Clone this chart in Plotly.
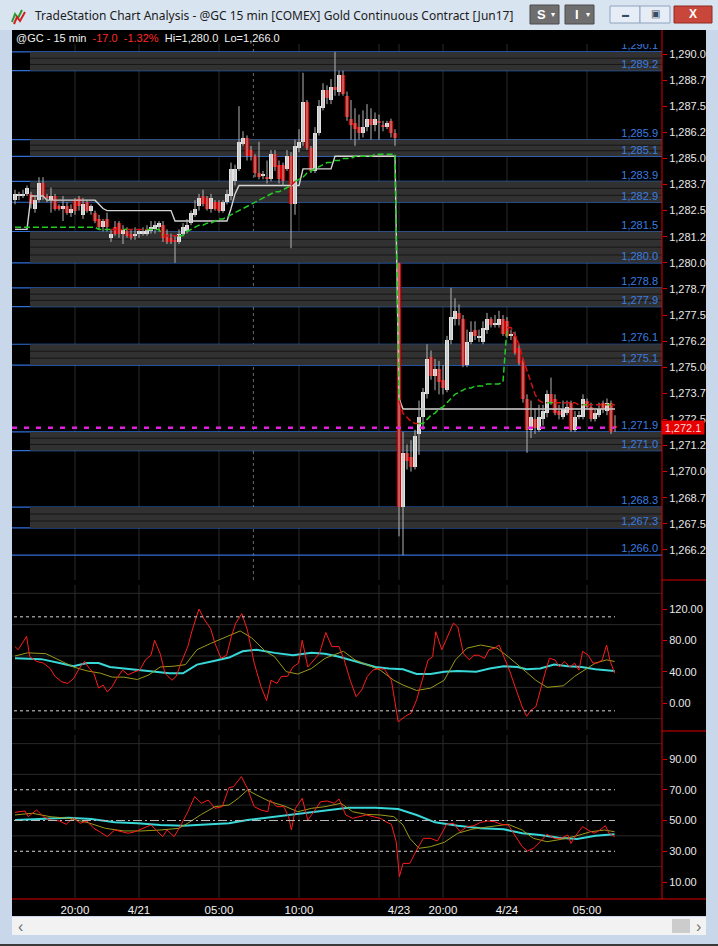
import plotly.graph_objects as go

W, H = 718, 946

# ---------------- data ----------------
OPEN = [1283.0,1283.2,1283.2,1283.3,1283.3,1282.6,1283.0,1283.8,1283.2,1283.0,
        1283.2,1282.7,1282.6,1282.7,1282.4,1283.0,1283.1,1282.3,1282.9,1282.5,
        1282.4,1282.1,1281.7,1282.1,1281.2,1281.7,1281.9,1281.4,1281.5,1281.4,
        1281.3,1281.4,1281.4,1281.4,1281.5,1281.6,1281.7,1281.8,1281.4,1281.2,
        1281.1,1281.0,1281.4,1281.5,1281.9,1282.3,1282.7,1283.2,1283.1,1282.6,
        1282.9,1282.9,1282.5,1282.9,1283.2,1283.9,1284.5,1285.7,1286.0,1285.4,
        1285.1,1284.3,1284.2,1284.1,1284.0,1285.2,1284.7,1284.7,1284.5,1285.1,
        1282.8,1285.5,1285.8,1287.7,1285.5,1284.4,1286.2,1287.4,1288.3,1287.8,
        1288.4,1288.2,1289.0,1288.0,1286.9,1286.7,1286.5,1286.2,1286.5,1286.9,
        1286.6,1286.8,1286.6,1286.5,1286.8,1286.2,1280.0,1268.3,1270.9,1270.7,
        1270.2,1271.8,1272.6,1273.7,1275.5,1274.6,1274.9,1274.4,1273.9,1276.3,
        1277.3,1277.6,1277.3,1275.1,1276.2,1276.8,1276.4,1276.2,1276.8,1277.3,
        1277.0,1277.0,1277.3,1277.2,1276.5,1276.5,1275.9,1275.3,1273.5,1272.0,
        1272.5,1272.0,1272.5,1272.8,1273.7,1273.5,1272.9,1272.6,1272.8,1273.3,
        1272.0,1272.6,1272.6,1273.4,1273.1,1272.5,1272.7,1273.3,1272.9,1273.3,
        1272.2]
HIGH = [1283.5,1283.4,1283.5,1283.7,1283.4,1283.2,1284.1,1284.1,1283.3,1283.6,
        1283.3,1282.8,1283.2,1282.9,1282.8,1283.1,1283.2,1283.1,1283.0,1282.8,
        1282.5,1282.3,1282.1,1282.4,1281.6,1282.0,1282.0,1281.8,1281.7,1281.6,
        1281.7,1281.6,1281.7,1281.8,1282.0,1282.0,1282.0,1282.0,1281.6,1281.4,
        1281.3,1281.6,1281.9,1282.1,1282.5,1283.0,1283.3,1283.5,1283.2,1283.3,
        1283.0,1283.0,1283.0,1283.5,1284.8,1284.7,1287.5,1286.3,1286.1,1285.6,
        1285.2,1285.8,1284.4,1284.9,1285.4,1285.4,1284.9,1284.8,1285.4,1285.3,
        1285.9,1286.4,1289.1,1287.8,1285.6,1286.5,1287.8,1288.6,1288.5,1288.8,
        1290.1,1289.2,1289.2,1288.2,1287.8,1287.4,1287.1,1287.3,1287.6,1287.4,
        1287.2,1287.1,1286.8,1286.8,1286.9,1286.4,1280.0,1271.9,1271.3,1271.5,
        1272.0,1273.4,1274.0,1276.1,1275.8,1275.4,1275.3,1275.1,1276.5,1278.8,
        1278.3,1278.0,1277.5,1276.8,1277.2,1277.2,1276.8,1277.2,1277.6,1277.4,
        1277.5,1277.7,1277.5,1277.4,1276.8,1276.7,1276.1,1275.4,1273.7,1273.4,
        1273.0,1273.2,1273.2,1273.9,1274.5,1273.7,1273.2,1273.4,1273.4,1273.4,
        1272.9,1272.9,1273.7,1273.5,1273.3,1273.0,1273.3,1273.4,1273.5,1273.4,
        1272.7]
LOW = [1282.8,1283.0,1283.1,1283.2,1282.6,1282.4,1282.9,1283.0,1282.9,1282.4,
       1282.5,1282.5,1282.0,1282.3,1282.2,1282.3,1282.5,1282.1,1282.4,1282.3,
       1281.9,1281.6,1281.5,1281.5,1281.0,1281.3,1281.2,1280.9,1281.2,1281.1,
       1281.1,1281.2,1281.3,1281.3,1281.4,1281.4,1281.5,1281.0,1280.9,1280.9,
       1280.0,1280.9,1281.3,1281.4,1281.8,1282.2,1282.5,1282.7,1282.5,1282.4,
       1282.5,1282.4,1282.4,1282.8,1283.0,1283.7,1284.4,1285.6,1284.9,1284.9,
       1284.1,1284.0,1284.0,1283.8,1283.9,1284.4,1283.8,1283.7,1284.4,1280.7,
       1282.3,1285.3,1285.6,1285.4,1284.3,1284.3,1286.1,1287.3,1287.6,1287.6,
       1288.0,1288.0,1288.0,1286.8,1285.9,1285.6,1285.9,1286.0,1286.3,1285.9,
       1286.3,1285.9,1286.3,1286.4,1286.0,1285.6,1266.9,1266.0,1270.1,1270.0,
       1270.1,1270.8,1272.0,1273.5,1274.4,1273.9,1273.7,1273.7,1273.8,1276.1,
       1277.0,1277.0,1275.0,1275.0,1276.1,1276.3,1276.2,1276.1,1276.6,1276.9,
       1276.9,1276.9,1276.5,1276.4,1276.3,1275.6,1275.1,1273.3,1270.9,1271.6,
       1271.8,1271.9,1272.2,1272.6,1273.2,1272.7,1272.5,1272.5,1272.7,1271.9,
       1271.9,1272.5,1272.5,1273.0,1272.4,1272.4,1272.6,1272.8,1272.7,1271.8,
       1271.9]
CLOSE = [1283.3,1283.3,1283.3,1283.6,1282.8,1283.0,1283.8,1283.2,1283.1,1283.2,
         1282.6,1282.6,1282.7,1282.4,1282.6,1282.5,1282.7,1282.8,1282.5,1282.7,
         1282.0,1281.7,1282.0,1281.7,1281.4,1281.4,1281.4,1281.6,1281.3,1281.2,
         1281.4,1281.5,1281.5,1281.6,1281.7,1281.8,1281.9,1281.2,1281.0,1281.0,
         1281.0,1281.4,1281.7,1281.8,1282.4,1282.6,1283.1,1282.8,1282.6,1283.1,
         1282.6,1282.5,1282.9,1283.3,1284.5,1284.5,1285.8,1286.0,1285.1,1285.1,
         1284.3,1284.1,1284.2,1284.0,1285.2,1284.6,1284.0,1283.9,1285.1,1282.8,
         1285.6,1285.8,1287.7,1285.5,1284.4,1286.2,1287.5,1288.3,1287.9,1288.4,
         1288.3,1289.0,1288.1,1287.0,1286.6,1286.4,1286.2,1286.5,1286.9,1286.6,
         1286.9,1286.7,1286.5,1286.7,1286.2,1286.0,1268.3,1270.9,1270.5,1270.2,
         1271.7,1272.6,1273.8,1275.4,1274.6,1274.9,1274.3,1274.0,1276.3,1277.4,
         1277.7,1277.3,1275.1,1276.2,1276.7,1276.5,1276.5,1276.9,1277.3,1277.0,
         1277.1,1277.3,1276.6,1276.5,1276.6,1275.7,1275.2,1273.5,1272.0,1272.6,
         1272.1,1272.6,1272.9,1273.7,1273.3,1272.8,1272.7,1273.0,1273.1,1272.0,
         1272.6,1272.7,1273.5,1273.1,1272.5,1272.8,1273.0,1273.0,1273.3,1271.9,
         1272.1]

# white step line and coloured dashed trailing line (price units, one per bar)
WHITE_LINE = ([1281.6]*4 + [1283.2]*4 + [1283.0]*13 + [1282.8, 1282.6] + [1282.5]*17 +
              [1282.0]*14 + [1282.6, 1283.3] + [1283.7]*16 + [1284.5]*8 + [1285.1]*16 +
              [1273.5] + [1273.0]*54)
TRAIL_LINE = ([1281.7]*21 + [1281.6]*16 + [1281.3]*6 +
              [1281.5,1281.6,1281.7,1281.8,1281.8] +
              [1281.9,1281.9,1282.0,1282.1,1282.1,1282.2] +
              [1282.3,1282.4,1282.5,1282.6,1282.7] +
              [1282.8,1282.9,1283.0,1283.1,1283.2] +
              [1283.3,1283.4,1283.4,1283.5,1283.6] +
              [1283.7,1283.9,1284.0,1284.1,1284.3,1284.4] +
              [1284.5,1284.6,1284.7,1284.8,1284.8,1284.9,1284.9] +
              [1285.0,1285.0,1285.0,1285.1,1285.1,1285.1,1285.1,1285.1] +
              [1285.2]*6 + [1273.4] +
              [1272.8,1272.6,1272.4,1272.3,1272.3] +
              [1272.3,1272.5,1272.7,1272.8,1273.0,1273.1,1273.3,1273.5,1273.7,1273.8,
               1273.9,1274.0,1274.0,1274.1,1274.1,1274.1,1274.2,1274.2,1274.2,1274.2,1274.3] +
              [1276.9,1276.9] +
              [1276.5,1276.1,1275.4,1274.8,1274.2,1273.7,1273.4,1273.3] +
              [1273.3]*8 + [1273.2]*10)

LEVELS = [1290.1, 1289.2, 1285.9, 1285.1, 1283.9, 1282.9, 1281.5, 1280.0, 1278.8,
          1277.9, 1276.1, 1275.1, 1271.9, 1271.0, 1268.3, 1267.3, 1266.0]
ZONES = [(1289.2, 1290.1), (1285.1, 1285.9), (1282.9, 1283.9), (1280.0, 1281.5),
         (1277.9, 1278.8), (1275.1, 1276.1), (1271.0, 1271.9), (1267.3, 1268.3)]
LAST_PRICE = 1272.1

PRICE_TICKS = [1290.0, 1288.75, 1287.5, 1286.25, 1285.0, 1283.75, 1282.5, 1281.25, 1280.0,
               1278.75, 1277.5, 1276.25, 1275.0, 1273.75, 1272.5, 1271.25, 1270.0,
               1268.75, 1267.5, 1266.25]
PRICE_TICK_TEXT = ["1,290.0", "1,288.7", "1,287.5", "1,286.2", "1,285.0", "1,283.7", "1,282.5",
                   "1,281.2", "1,280.0", "1,278.7", "1,277.5", "1,276.2", "1,275.0", "1,273.7",
                   "1,272.5", "1,271.2", "1,270.0", "1,268.7", "1,267.5", "1,266.2"]

TIME_TICKS = [15, 31, 51, 71, 96, 107, 123, 143]
TIME_LABELS = ["20:00", "4/21", "05:00", "10:00", "4/23", "20:00", "4/24", "05:00"]
GRID_X = [15, 31, 51, 71, 91, 96, 107, 123, 143]
SESSION_X = 59.6

# indicator 1
P1_RED_X = [0.0,0.8,2.9,3.7,5.4,7.1,8.8,10.0,11.7,13.2,14.6,16.3,17.4,18.6,19.7,20.9,22.0,23.1,
            24.3,25.4,26.9,28.3,30.0,31.2,32.6,34.0,34.9,36.3,37.5,39.2,40.3,41.5,43.2,44.3,
            46.0,47.4,48.9,50.0,51.5,52.9,54.1,55.2,56.7,58.1,59.8,61.5,62.9,64.0,65.5,66.6,
            68.1,69.5,70.9,71.8,73.2,74.7,76.1,77.7,79.2,81.0,82.3,83.8,85.3,86.7,88.1,89.5,
            91.0,92.4,94.1,95.8,97.6,99.0,100.4,101.8,103.3,104.4,105.2,106.7,107.9,109.6,
            110.7,112.1,113.6,114.7,115.9,117.4,118.5,119.9,121.0,122.2,123.6,125.0,126.8,
            127.9,129.0,130.2,131.3,132.5,133.6,135.0,136.1,137.3,138.8,139.9,141.0,141.9,
            143.3,144.5,145.6,146.8,147.9,148.7,149.9]
P1_RED = [72,68,85,59,53,51,44,34,27,25,31,46,53,44,38,19,23,14,21,31,42,36,40,42,55,61,80,63,
          38,29,34,51,72,93,120,106,95,76,57,61,85,102,114,93,51,21,3,29,25,34,34,46,51,80,46,
          55,63,90,72,72,55,29,8,17,34,42,44,43,29,-24,-17,-13,4,29,55,59,91,68,83,102,97,63,55,
          61,61,57,68,70,74,59,42,21,-5,-17,-9,-5,17,38,57,55,46,53,46,51,42,66,61,51,51,55,74,
          55,38]
P1_OLIVE_X = [0.0,3.1,7.7,11.1,14.6,18.0,21.4,24.3,27.2,30.6,33.5,36.3,39.8,42.6,45.5,48.9,52.3,
              56.3,59.2,62.6,64.9,67.8,70.7,74.1,77.5,82.1,85.0,87.8,91.3,94.7,97.0,100.4,103.9,
              107.3,110.1,113.0,116.4,120.5,123.3,126.8,130.2,133.0,137.1,139.9,142.8,145.1,
              147.9,149.9]
P1_OLIVE = [60,64,63,55,46,41,38,33,33,30,36,46,47,49,68,76,83,92,83,66,59,40,37,44,57,66,55,49,
            42,29,23,16,19,29,55,70,74,70,59,44,29,20,22,34,44,51,55,53]
P1_CYAN_X = [0.0,6.6,11.1,14.6,18.0,20.9,23.7,27.2,30.6,35.2,38.6,42.0,45.5,50.0,53.5,56.9,60.4,
             64.9,69.5,74.1,77.5,81.0,85.5,90.1,93.5,97.0,100.4,103.9,107.3,110.7,115.3,118.7,
             122.2,125.6,127.9,131.3,134.8,138.2,141.6,145.1,149.9]
P1_CYAN = [57,56,51,47,51,51,46,44,42,40,38,38,49,54,58,66,68,64,61,64,63,59,53,46,44,43,37,37,
           40,41,40,44,47,46,43,44,49,47,46,43,41]
P1_BANDS = [110, -10]
P1_TICKS = [120, 80, 40, 0]
P1_TICK_TEXT = ["120.00", "80.00", "40.00", "0.00"]
P1_GRID = [140, 100, 60, 20, -20]

# indicator 2
P2_RED_X = [0.0,2.5,3.3,5.4,7.1,8.8,11.1,12.8,14.6,16.3,18.0,19.7,21.4,23.1,24.9,26.6,28.3,30.0,
            31.7,34.0,35.7,36.9,38.0,39.8,41.5,43.2,44.9,46.6,48.3,50.0,51.8,53.5,54.6,56.6,
            58.1,59.8,61.5,63.2,63.8,65.5,67.2,68.4,69.1,70.1,71.8,73.2,74.7,76.4,78.1,79.8,
            81.0,82.7,84.4,86.1,87.8,89.5,91.3,93.0,94.1,95.3,96.1,97.0,98.7,100.4,102.1,103.9,
            105.6,106.7,107.9,109.6,111.3,113.0,114.7,116.4,118.2,119.9,121.6,123.3,125.0,
            126.8,128.1,129.6,131.3,133.0,134.8,136.5,138.2,139.0,140.3,141.9,143.3,144.8,
            146.2,147.6,148.5,149.9]
P2_RED = [55.3,56.2,52.5,56.8,52.5,50.3,49.7,47.5,51.8,48.2,49.7,44.9,42.3,39.5,43.8,42.7,41.7,
          42.7,44.5,47.1,42.7,39.5,43.8,39.5,47.1,55.7,65.5,61.2,63.3,57.9,59.0,71.4,72.0,78.5,
          70.9,59.0,56.8,55.7,63.3,59.0,59.0,52.5,43.8,57.9,64.4,50.3,55.7,62.2,62.7,61.2,64.0,
          53.6,51.4,52.5,53.6,52.5,51.4,48.8,47.5,36.2,13.5,22.1,22.1,30.8,38.4,38.4,36.7,41.7,
          47.5,48.2,42.7,46.0,46.6,48.8,49.7,49.2,47.5,47.1,40.6,33.0,30.2,31.9,36.2,41.0,38.4,
          38.4,40.6,35.1,40.6,46.0,43.8,41.7,43.8,46.6,41.7,39.5]
P2_OLIVE_X = [0.0,4.3,8.8,13.4,18.0,22.6,27.2,31.7,36.3,40.9,43.2,46.6,50.0,53.5,55.8,58.1,60.4,
              63.8,67.2,70.7,74.1,77.5,81.5,84.4,87.8,91.3,94.7,97.0,98.7,101.0,103.9,107.3,
              110.7,114.2,118.7,123.3,126.8,129.6,133.0,137.1,140.5,143.9,147.4,149.9]
P2_OLIVE = [53.6,54.7,52.5,51.4,48.8,44.9,43.2,43.2,43.8,44.9,48.2,54.0,59.0,60.1,64.4,69.8,66.6,
            62.2,59.6,55.7,57.9,59.0,61.2,55.7,54.0,53.6,52.5,47.1,38.4,31.9,33.0,35.8,41.7,44.3,
            46.0,47.5,43.8,38.4,36.2,38.0,40.1,42.7,43.8,42.7]
P2_CYAN_X = [0.0,7.7,13.4,19.1,24.9,30.6,36.3,42.0,47.8,53.5,58.1,64.9,70.7,76.4,83.3,90.1,95.8,
             100.4,105.0,110.7,116.4,122.2,126.8,131.3,135.9,140.5,145.1,149.9]
P2_CYAN = [50.3,51.4,51.8,51.0,48.8,48.2,47.1,46.6,47.5,48.2,50.3,52.5,54.0,56.2,58.3,58.3,57.5,
           53.6,48.8,46.6,44.9,44.3,41.7,40.6,38.8,38.0,40.1,41.0]
P2_BANDS = [70, 30]
P2_MID = 50
P2_TICKS = [90, 70, 50, 30, 10]
P2_TICK_TEXT = ["90.00", "70.00", "50.00", "30.00", "10.00"]
P2_GRID = [100, 80, 60, 40, 20]

HEADER = ("@GC - 15 min&nbsp;&nbsp;<span style='color:#ff2a2a'>-17.0&nbsp;&nbsp;-1.32%</span>"
          "&nbsp;&nbsp;Hi=1,280.0&nbsp;&nbsp;Lo=1,266.0")
TITLE = "TradeStation Chart Analysis - @GC 15 min [COMEX] Gold Continuous Contract [Jun17]"

# ---------------- geometry helpers (pixels -> paper) ----------------
def PX(x):
    return x / W

def PY(y):
    return 1 - y / H

X_L, X_R = 12, 662
XR = [-0.75, 161.75]
FONT = "Liberation Sans, Arial, sans-serif"
TXT = "#e8e8e8"
RED_AX = "#e00000"

n = len(CLOSE)
idx = list(range(n))

fig = go.Figure()

# ---------------- price panel ----------------
fig.add_trace(go.Scatter(x=idx, y=WHITE_LINE, mode="lines",
                         line=dict(color="#d4d4d4", width=1.4), xaxis="x", yaxis="y",
                         hoverinfo="skip"))

wx, wy = [], []
for i in idx:
    wx += [i, i, None]
    wy += [LOW[i], HIGH[i], None]
fig.add_trace(go.Scatter(x=wx, y=wy, mode="lines", line=dict(color="#b4b4b4", width=1),
                         xaxis="x", yaxis="y", hoverinfo="skip"))

base = [min(o, c) for o, c in zip(OPEN, CLOSE)]
hgt = [max(abs(c - o), 0.05) for o, c in zip(OPEN, CLOSE)]
cols = ["#e2e2e2" if c >= o else "#dd0000" for o, c in zip(OPEN, CLOSE)]
fig.add_trace(go.Bar(x=idx, y=hgt, base=base, width=0.78, marker=dict(color=cols, line=dict(width=0)),
                     xaxis="x", yaxis="y", hoverinfo="skip"))

seg = {"g": ([], []), "r": ([], [])}
i = 0
while i < n - 1:
    c = "g" if TRAIL_LINE[i] <= CLOSE[i] else "r"
    j = i
    while j + 1 < n - 1 and (("g" if TRAIL_LINE[j + 1] <= CLOSE[j + 1] else "r") == c):
        j += 1
    xs, ys = seg[c]
    xs += list(range(i, j + 2)) + [None]
    ys += TRAIL_LINE[i:j + 2] + [None]
    i = j + 1
fig.add_trace(go.Scatter(x=seg["g"][0], y=seg["g"][1], mode="lines",
                         line=dict(color="#22cc22", width=1.5, dash="6px,3px"),
                         xaxis="x", yaxis="y", hoverinfo="skip"))
fig.add_trace(go.Scatter(x=seg["r"][0], y=seg["r"][1], mode="lines",
                         line=dict(color="#d01414", width=1.5, dash="6px,3px"),
                         xaxis="x", yaxis="y", hoverinfo="skip"))

fig.add_trace(go.Scatter(x=[-0.75, n - 1], y=[LAST_PRICE, LAST_PRICE], mode="lines",
                         line=dict(color="#e020e0", width=2.5, dash="5px,7px"),
                         xaxis="x", yaxis="y", hoverinfo="skip"))

lab_x = (658 - 15) / 4.0
fig.add_trace(go.Scatter(x=[lab_x] * len(LEVELS), y=LEVELS, mode="text",
                         text=[f"{v:,.1f}" for v in LEVELS], textposition="top left",
                         textfont=dict(color="#3a7de0", size=11, family=FONT),
                         xaxis="x", yaxis="y", hoverinfo="skip", cliponaxis=True))

# ---------------- indicator panels ----------------
for xs_, ys_, col, wd, ax in [
    (P1_CYAN_X, P1_CYAN, "#38d8d8", 2, "2"),
    (P1_OLIVE_X, P1_OLIVE, "#9a9a1c", 1, "2"),
    (P1_RED_X, P1_RED, "#ff1c1c", 1, "2"),
    (P2_CYAN_X, P2_CYAN, "#38d8d8", 2, "3"),
    (P2_OLIVE_X, P2_OLIVE, "#9a9a1c", 1, "3"),
    (P2_RED_X, P2_RED, "#ff1c1c", 1, "3"),
]:
    fig.add_trace(go.Scatter(x=xs_, y=ys_, mode="lines", line=dict(color=col, width=wd),
                             xaxis="x" + ax, yaxis="y" + ax, hoverinfo="skip"))

# ---------------- shapes ----------------
shapes = []
GRID_C = "#2a2a2a"
for ax in ["", "2", "3"]:
    for gx in GRID_X:
        shapes.append(dict(type="line", xref="x" + ax, yref=f"y{ax} domain", x0=gx, x1=gx,
                           y0=0, y1=1, line=dict(color=GRID_C, width=1), layer="below"))
shapes.append(dict(type="line", xref="x", yref="y domain", x0=SESSION_X, x1=SESSION_X, y0=0, y1=1,
                   line=dict(color="#6a6a6a", width=1, dash="3px,3px"), layer="below"))
for g in P1_GRID:
    shapes.append(dict(type="line", xref="x2 domain", yref="y2", x0=0, x1=1, y0=g, y1=g,
                       line=dict(color=GRID_C, width=1), layer="below"))
for g in P2_GRID:
    shapes.append(dict(type="line", xref="x3 domain", yref="y3", x0=0, x1=1, y0=g, y1=g,
                       line=dict(color=GRID_C, width=1), layer="below"))

ZONE_START = 3.75
for lo, hi in ZONES:
    shapes.append(dict(type="rect", xref="x", yref="y", x0=ZONE_START, x1=XR[1], y0=lo, y1=hi,
                       fillcolor="#313131", line=dict(width=0), layer="below"))
    k = 3 if (hi - lo) < 1.2 else 4
    for j in range(1, k):
        yy = lo + (hi - lo) * j / k
        shapes.append(dict(type="line", xref="x", yref="y", x0=ZONE_START, x1=XR[1], y0=yy, y1=yy,
                           line=dict(color="#161616", width=1), layer="below"))
for lv in LEVELS:
    shapes.append(dict(type="line", xref="x domain", yref="y", x0=0, x1=1, y0=lv, y1=lv,
                       line=dict(color="#2f6fd8", width=1.2), layer="below"))

for b in P1_BANDS:
    shapes.append(dict(type="line", xref="x2", yref="y2", x0=-0.25, x1=n - 1, y0=b, y1=b,
                       line=dict(color="#d8d8d8", width=1, dash="3px,3px")))
for b in P2_BANDS:
    shapes.append(dict(type="line", xref="x3", yref="y3", x0=-0.25, x1=n - 1, y0=b, y1=b,
                       line=dict(color="#d8d8d8", width=1, dash="3px,3px")))
shapes.append(dict(type="line", xref="x3", yref="y3", x0=-0.25, x1=n - 1, y0=P2_MID, y1=P2_MID,
                   line=dict(color="#b8b8b8", width=1, dash="9px,3px,2px,3px")))

shapes.append(dict(type="line", xref="paper", yref="paper", x0=PX(662), x1=PX(662), y0=PY(30),
                   y1=PY(899), line=dict(color=RED_AX, width=1)))
for yy, xa in [(580, 662), (731, 662), (899, 12)]:
    shapes.append(dict(type="line", xref="paper", yref="paper", x0=PX(xa), x1=PX(706),
                       y0=PY(yy), y1=PY(yy), line=dict(color=RED_AX, width=1)))


def prect(x0, y0, x1, y1, fill, line=None, lw=0):
    return dict(type="rect", xref="paper", yref="paper", x0=PX(x0), x1=PX(x1), y0=PY(y0), y1=PY(y1),
                fillcolor=fill, line=dict(color=line or fill, width=lw), layer="above")


shapes += [
    prect(0, 0, 718, 30, "#d9e4f1"),
    prect(0, 30, 12, 946, "#c8d7ea"),
    prect(706, 30, 718, 946, "#c8d7ea"),
    prect(0, 916, 718, 946, "#c8d7ea"),
    prect(12, 917, 706, 935, "#f2f2f2"),
    prect(672, 919, 690, 933, "#cccccc"),
    prect(0, 944, 718, 946, "#3a3a3a"),
    prect(530, 5, 559, 24, "#6e6e6e", "#4a4a4a", 1),
    prect(565, 5, 594, 24, "#6e6e6e", "#4a4a4a", 1),
    prect(610, 6, 640, 23, "#e6edf6", "#8ea4bf", 1),
    prect(640, 6, 670, 23, "#e6edf6", "#8ea4bf", 1),
    prect(674, 6, 712, 23, "#c9463b", "#8e2a22", 1),
]
shapes.append(dict(type="path", xref="paper", yref="paper",
                   path=f"M {PX(12)} {PY(22)} L {PX(15)} {PY(14)} L {PX(18)} {PY(18)} L {PX(22)} {PY(10)}",
                   line=dict(color="#2a9a2a", width=2), layer="above"))
shapes.append(dict(type="path", xref="paper", yref="paper",
                   path=f"M {PX(14)} {PY(24)} L {PX(17)} {PY(17)} L {PX(20)} {PY(21)} L {PX(25)} {PY(12)}",
                   line=dict(color="#d02020", width=2), layer="above"))

# ---------------- annotations ----------------
ann = []


def ptext(x, y, text, size=11, color="#1a1a1a", xanchor="left", family=FONT, bold=False):
    t = f"<b>{text}</b>" if bold else text
    return dict(xref="paper", yref="paper", x=PX(x), y=PY(y), text=t, showarrow=False,
                xanchor=xanchor, yanchor="middle", font=dict(size=size, color=color, family=family))


ann.append(ptext(33, 16, TITLE, size=12, color="#1b1b1b", family="Noto Sans, Open Sans, sans-serif"))
ann.append(ptext(14, 38, HEADER, size=11, color="#f0f0f0"))
ann.append(ptext(541, 15, "S", size=13, color="#ffffff", xanchor="center", bold=True))
ann.append(ptext(553, 15, "▾", size=8, color="#ffffff", xanchor="center"))
ann.append(ptext(577, 15, "I", size=13, color="#ffffff", xanchor="center", bold=True))
ann.append(ptext(588, 15, "▾", size=8, color="#ffffff", xanchor="center"))
ann.append(ptext(625, 15, "▬", size=7, color="#3a4a60", xanchor="center"))
ann.append(ptext(655, 14, "▣", size=10, color="#3a4a60", xanchor="center"))
ann.append(ptext(693, 14, "X", size=12, color="#ffffff", xanchor="center", bold=True))
ann.append(ptext(20, 926, "‹", size=16, color="#707070", xanchor="center"))
ann.append(ptext(698, 926, "›", size=16, color="#707070", xanchor="center"))
ann.append(dict(xref="paper", yref="y", x=PX(661), y=LAST_PRICE, text="1,272.1", showarrow=False,
                xanchor="left", yanchor="middle", bgcolor="#e60000", width=42, height=13,
                font=dict(size=11, color="#ffd6d6", family=FONT), borderpad=0))

axis_common = dict(showgrid=False, zeroline=False, showline=False)
yfont = dict(size=11, color=TXT, family=FONT)

fig.update_layout(
    width=W, height=H, autosize=False, margin=dict(l=0, r=0, t=0, b=0, pad=0),
    paper_bgcolor="#000000", plot_bgcolor="#000000", showlegend=False, bargap=0,
    xaxis=dict(domain=[PX(X_L), PX(X_R)], range=XR, anchor="y", showticklabels=False, ticks="",
               **axis_common),
    yaxis=dict(domain=[PY(580), PY(44)], range=[1264.808, 1290.479], side="right", anchor="x",
               tickvals=PRICE_TICKS, ticktext=PRICE_TICK_TEXT, ticks="outside", ticklen=4,
               tickcolor=RED_AX, tickfont=yfont, **axis_common),
    xaxis2=dict(domain=[PX(X_L), PX(X_R)], range=XR, anchor="y2", showticklabels=False, ticks="",
                **axis_common),
    yaxis2=dict(domain=[PY(730), PY(585)], range=[-34.47, 150.64], side="right", anchor="x2",
                tickvals=P1_TICKS, ticktext=P1_TICK_TEXT, ticks="outside", ticklen=4,
                tickcolor=RED_AX, tickfont=yfont, **axis_common),
    xaxis3=dict(domain=[PX(X_L), PX(X_R)], range=XR, anchor="y3", tickvals=TIME_TICKS,
                ticktext=TIME_LABELS, ticks="", ticklabelstandoff=3,
                tickfont=dict(size=11.5, color="#f2f2f2", family=FONT), **axis_common),
    yaxis3=dict(domain=[PY(898), PY(735)], range=[-0.41, 105.61], side="right", anchor="x3",
                tickvals=P2_TICKS, ticktext=P2_TICK_TEXT, ticks="outside", ticklen=4,
                tickcolor=RED_AX, tickfont=yfont, **axis_common),
    shapes=shapes, annotations=ann,
)

fig.write_html("out.html", config={"displayModeBar": False},
               post_script="document.body.style.margin='0px';document.body.style.overflow='hidden';")
